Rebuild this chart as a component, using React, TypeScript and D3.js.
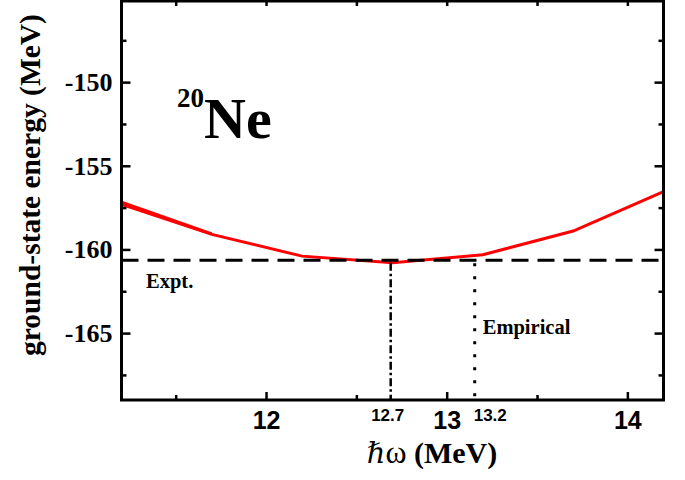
import { useEffect, useRef } from "react";
import * as d3 from "d3";

// hbar*omega (MeV) and calculated ground-state energy (MeV)
const hw = [11.2, 11.7, 12.2, 12.7, 13.2, 13.7, 14.2];
const energy = [-157.3, -159.1, -160.4, -160.8, -160.32, -158.9, -156.55];
// second, nearly coincident curve visible only at the low-hw end
const hwB = [11.2, 11.7];
const energyB = [-157.18, -159.07];

const exptEnergy = -160.64;
const minHw = 12.69;
const empiricalHw = 13.155;

const xMajor = [12, 13, 14];
const xMinor = [11.5, 12.5, 13.5];
const yMajor = [-165, -160, -155, -150];
const yMinor = [-167.5, -162.5, -157.5, -152.5, -147.5];

const W = 685;
const H = 480;
const SERIF = "'Liberation Serif', 'Times New Roman', serif";
const SANS = "'Liberation Sans', Arial, sans-serif";

const App = () => {
  const svgRef = useRef<SVGSVGElement>(null);

  useEffect(() => {
    if (!svgRef.current) return;
    const svg = d3.select(svgRef.current);
    svg.selectAll("*").remove();

    const left = 121.5, right = 663.5, top = 1, bottom = 400;

    const x = d3.scaleLinear().domain([11.2, 14.2]).range([left, right]);
    const y = d3.scaleLinear().domain([-169, -145.15]).range([bottom, top]);

    const g = svg.append("g");

    // red curves
    const line = d3.line<[number, number]>()
      .x(d => x(d[0]))
      .y(d => y(d[1]));

    g.append("path")
      .datum(hw.map((h, i) => [h, energy[i]] as [number, number]))
      .attr("d", line)
      .attr("fill", "none")
      .attr("stroke", "#ff0000")
      .attr("stroke-width", 3);

    g.append("path")
      .datum(hwB.map((h, i) => [h, energyB[i]] as [number, number]))
      .attr("d", line)
      .attr("fill", "none")
      .attr("stroke", "#ff0000")
      .attr("stroke-width", 3);

    // experimental value
    g.append("line")
      .attr("x1", left)
      .attr("x2", right)
      .attr("y1", y(exptEnergy))
      .attr("y2", y(exptEnergy))
      .attr("stroke", "#000")
      .attr("stroke-width", 3)
      .attr("stroke-dasharray", "17,9");

    // minimum (dash-dot) and empirical (dotted) markers
    g.append("line")
      .attr("x1", x(minHw))
      .attr("x2", x(minHw))
      .attr("y1", y(d3.min(energy) as number))
      .attr("y2", bottom)
      .attr("stroke", "#000")
      .attr("stroke-width", 2.5)
      .attr("stroke-dasharray", "8,3,2.5,3");

    g.append("line")
      .attr("x1", x(empiricalHw))
      .attr("x2", x(empiricalHw))
      .attr("y1", y(exptEnergy) + 3)
      .attr("y2", bottom)
      .attr("stroke", "#000")
      .attr("stroke-width", 3)
      .attr("stroke-dasharray", "3,10");

    // axes
    const styleAxis = (sel: d3.Selection<SVGGElement, unknown, null, undefined>) => {
      sel.select(".domain").remove();
      sel.selectAll(".tick line").attr("stroke", "#000").attr("stroke-width", 2.5);
    };

    g.append("g")
      .attr("transform", `translate(0,${bottom})`)
      .call(d3.axisBottom(x).tickValues(xMajor).tickSize(-8).tickPadding(11.5)
        .tickFormat(d => String(d)))
      .call(styleAxis)
      .call(s => s.selectAll(".tick text")
        .attr("fill", "#000")
        .attr("font-family", SANS)
        .attr("font-weight", "bold")
        .attr("font-size", 25));

    g.append("g")
      .attr("transform", `translate(0,${bottom})`)
      .call(d3.axisBottom(x).tickValues(xMinor).tickSize(-5).tickFormat(() => ""))
      .call(styleAxis);

    g.append("g")
      .attr("transform", `translate(0,${top})`)
      .call(d3.axisTop(x).tickValues([...xMajor, ...xMinor]).tickSize(-5).tickFormat(() => ""))
      .call(styleAxis);

    g.append("g")
      .attr("transform", `translate(${left},0)`)
      .call(d3.axisLeft(y).tickValues(yMajor).tickSize(-9).tickPadding(9)
        .tickFormat(d => String(d)))
      .call(styleAxis)
      .call(s => s.selectAll(".tick text")
        .attr("fill", "#000")
        .attr("font-family", SERIF)
        .attr("font-weight", "bold")
        .attr("font-size", 26));

    g.append("g")
      .attr("transform", `translate(${left},0)`)
      .call(d3.axisLeft(y).tickValues(yMinor).tickSize(-5).tickFormat(() => ""))
      .call(styleAxis);

    g.append("g")
      .attr("transform", `translate(${right},0)`)
      .call(d3.axisRight(y).tickValues(yMajor).tickSize(-9).tickFormat(() => ""))
      .call(styleAxis);

    g.append("g")
      .attr("transform", `translate(${right},0)`)
      .call(d3.axisRight(y).tickValues(yMinor).tickSize(-5).tickFormat(() => ""))
      .call(styleAxis);

    // frame
    g.append("rect")
      .attr("x", left)
      .attr("y", top)
      .attr("width", right - left)
      .attr("height", bottom - top)
      .attr("fill", "none")
      .attr("stroke", "#000")
      .attr("stroke-width", 3);

    // marker labels under the axis
    g.append("text")
      .attr("x", x(minHw) - 3)
      .attr("y", 421)
      .attr("text-anchor", "middle")
      .attr("font-family", SANS)
      .attr("font-weight", "bold")
      .attr("font-size", 17)
      .text("12.7");

    g.append("text")
      .attr("x", x(empiricalHw) - 1)
      .attr("y", 421)
      .attr("text-anchor", "start")
      .attr("font-family", SANS)
      .attr("font-weight", "bold")
      .attr("font-size", 17)
      .text("13.2");

    // in-plot labels
    g.append("text")
      .attr("x", 146)
      .attr("y", 288)
      .attr("font-family", SERIF)
      .attr("font-weight", "bold")
      .attr("font-size", 20.5)
      .text("Expt.");

    g.append("text")
      .attr("x", x(empiricalHw) + 8)
      .attr("y", 334)
      .attr("font-family", SERIF)
      .attr("font-weight", "bold")
      .attr("font-size", 20.5)
      .text("Empirical");

    const nuc = g.append("text")
      .attr("x", 177)
      .attr("y", 138)
      .attr("font-family", SERIF)
      .attr("font-weight", "bold");
    nuc.append("tspan").attr("font-size", 27).attr("dy", -31).text("20");
    nuc.append("tspan").attr("font-size", 58).attr("dy", 31).text("Ne");

    // axis titles
    const xt = g.append("text")
      .attr("x", 432)
      .attr("y", 463)
      .attr("text-anchor", "middle")
      .attr("font-family", SERIF)
      .attr("font-weight", "bold")
      .attr("font-size", 30);
    xt.append("tspan").attr("font-style", "italic").attr("font-weight", "normal")
      .attr("font-family", "'DejaVu Serif', serif").attr("font-size", 29).text("\u210F");
    xt.append("tspan").attr("font-weight", "normal").attr("font-size", 32).text("\u03C9");
    xt.append("tspan").text("\u00A0(MeV)");

    g.append("text")
      .attr("transform", `translate(40,185) rotate(-90)`)
      .attr("text-anchor", "middle")
      .attr("font-family", SERIF)
      .attr("font-weight", "bold")
      .attr("font-size", 29.5)
      .text("ground-state energy (MeV)");
  }, []);

  return (
    <svg
      ref={svgRef}
      width={W}
      height={H}
      style={{ position: "absolute", left: 0, top: 0, background: "#fff" }}
    />
  );
};

export default App;
